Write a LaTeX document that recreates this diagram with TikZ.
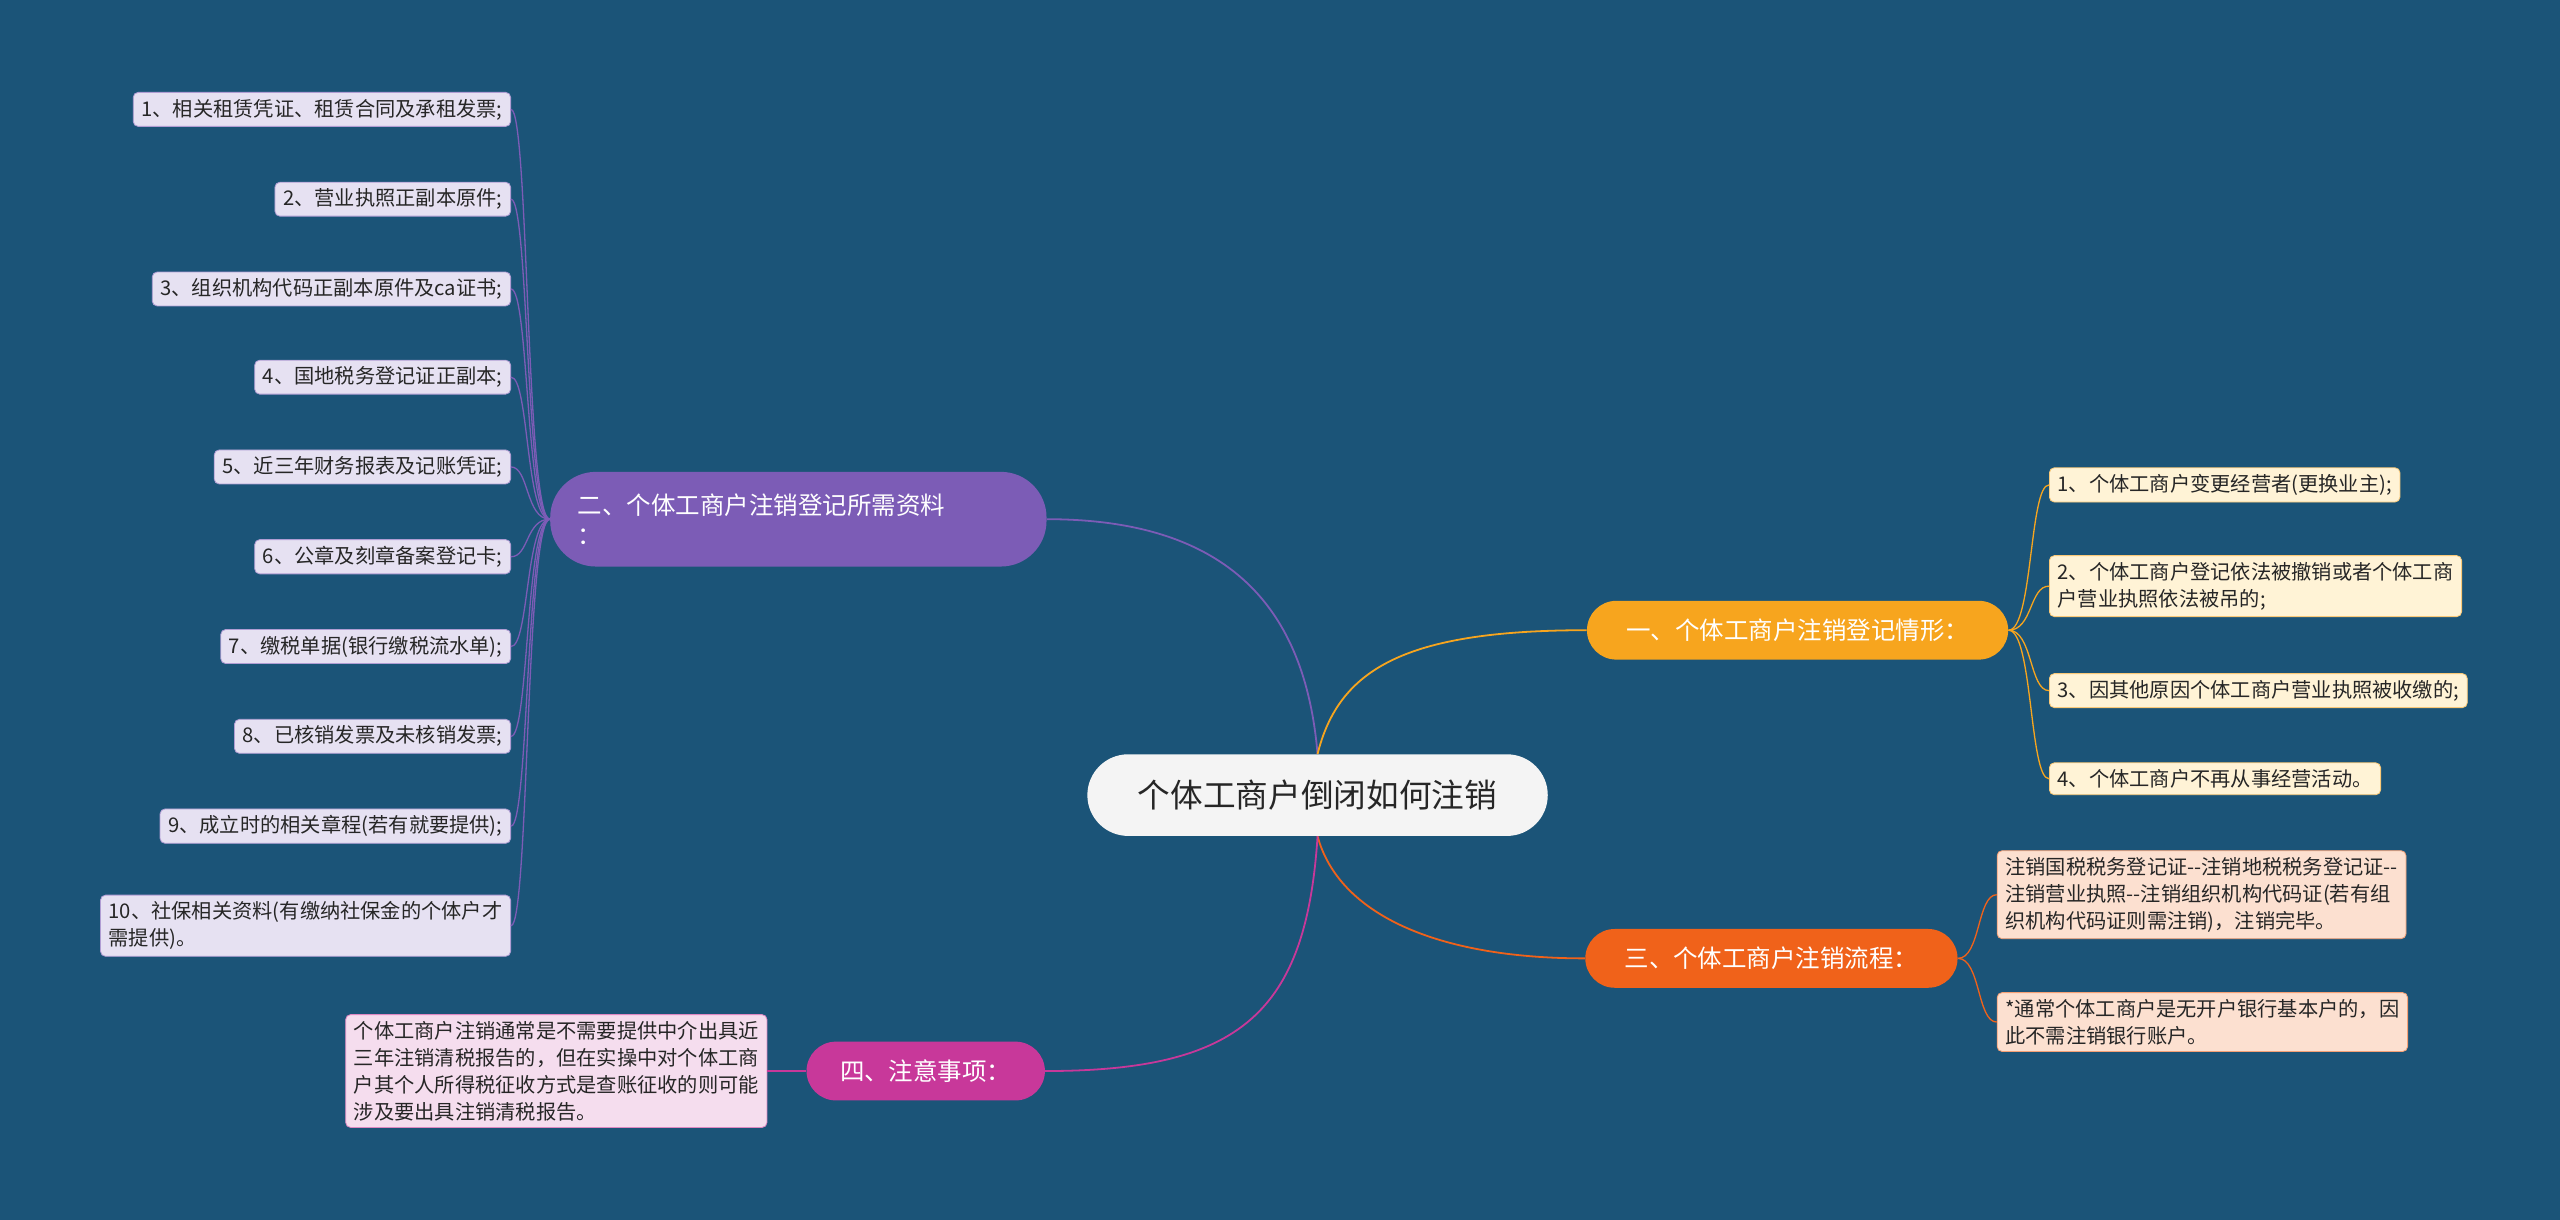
\documentclass[tikz,border=0pt]{standalone}
\usepackage{fontspec}
\setmainfont{Noto Sans CJK SC}
\begin{document}
\begin{tikzpicture}[x=1pt,y=-1pt,
 leaf/.style={rounded corners=3pt,draw=#1!60!white,line width=0.5pt,inner xsep=5pt,inner ysep=4pt,align=left,font=\fontsize{12.4}{16.5}\selectfont,text=black!85},
 br/.style={rounded corners=18pt,fill=#1,text=white,inner xsep=14pt,font=\fontsize{15}{18}\selectfont,minimum height=36pt},
 con/.style={line width=1.1pt,draw=#1}]
\fill[fill={rgb,255:red,27;green,84;blue,120}] (0,0) rectangle (1568,747);
\useasboundingbox (0,0) rectangle (1568,747);
\definecolor{cor}{RGB}{247,165,30}
\definecolor{cre}{RGB}{240,98,26}
\definecolor{cpu}{RGB}{124,92,182}
\definecolor{cmg}{RGB}{200,56,154}
\node[fill={rgb,255:red,244;green,244;blue,244},rounded corners=25pt,minimum width=282pt,minimum height=50pt,font=\fontsize{20}{24}\selectfont,text=black!85] (c) at (807,487) {个体工商户倒闭如何注销};
\node[br=cor,minimum width=258pt] (b1) at (1101,386) {一、个体工商户注销登记情形：};
\node[br=cre,minimum width=228pt] (b3) at (1085,587) {三、个体工商户注销流程：};
\node[br=cmg,minimum width=146pt] (b4) at (567,656) {四、注意事项：};
\node[br=cpu,rounded corners=28pt,minimum width=304pt,minimum height=58pt,align=left,text width=270pt] (b2) at (489,318) {二、个体工商户注销登记所需资料\\：};
\draw[con=cpu] (c.north) .. controls (800,380) and (760,318) .. (b2.east);
\draw[con=cor] (c.north) .. controls (820,410) and (860,386) .. (b1.west);
\draw[con=cre] (c.south) .. controls (820,560) and (880,587) .. (b3.west);
\draw[con=cmg] (c.south) .. controls (800,620) and (760,656) .. (b4.east);
% branch 1 leaves
\foreach \n/\y/\t in {a1/297/{1、个体工商户变更经营者(更换业主);},a2/359/{2、个体工商户登记依法被撤销或者个体工商\\户营业执照依法被吊的;},a3/423/{3、因其他原因个体工商户营业执照被收缴的;},a4/477/{4、个体工商户不再从事经营活动。}}{
 \node[leaf=cor,fill={rgb,255:red,255;green,243;blue,214},anchor=west] (\n) at (1255,\y) {\t};
 \draw[con=cor,line width=0.8pt] (b1.east) .. controls (1245,386) and (1243,\y) .. (\n.west);
}
% branch 3 leaves
\foreach \n/\y/\t in {d1/548/{注销国税税务登记证-{}-注销地税税务登记证-{}-\\注销营业执照-{}-注销组织机构代码证(若有组\\织机构代码证则需注销)，注销完毕。},d2/626/{*通常个体工商户是无开户银行基本户的，因\\此不需注销银行账户。}}{
 \node[leaf=cre,fill={rgb,255:red,252;green,224;blue,208},anchor=west] (\n) at (1223,\y) {\t};
 \draw[con=cre,line width=0.8pt] (b3.east) .. controls (1213,587) and (1211,\y) .. (\n.west);
}
% branch 2 leaves
\foreach \n/\y/\t in {e1/67/{1、相关租赁凭证、租赁合同及承租发票;},e2/122/{2、营业执照正副本原件;},e3/177/{3、组织机构代码正副本原件及ca证书;},e4/231/{4、国地税务登记证正副本;},e5/286/{5、近三年财务报表及记账凭证;},e6/341/{6、公章及刻章备案登记卡;},e7/396/{7、缴税单据(银行缴税流水单);},e8/451/{8、已核销发票及未核销发票;},e9/506/{9、成立时的相关章程(若有就要提供);},e10/567/{10、社保相关资料(有缴纳社保金的个体户才\\需提供)。}}{
 \node[leaf=cpu,fill={rgb,255:red,230;green,225;blue,242},anchor=east] (\n) at (313,\y) {\t};
 \draw[con=cpu,line width=0.8pt] (b2.west) .. controls (322,318) and (324,\y) .. (\n.east);
}
% branch 4 leaf
\node[leaf=cmg,fill={rgb,255:red,245;green,221;blue,238},anchor=east] (f1) at (470,656) {个体工商户注销通常是不需要提供中介出具近\\三年注销清税报告的，但在实操中对个体工商\\户其个人所得税征收方式是查账征收的则可能\\涉及要出具注销清税报告。};
\draw[con=cmg,line width=0.8pt] (b4.west) -- (f1.east);
\end{tikzpicture}
\end{document}
